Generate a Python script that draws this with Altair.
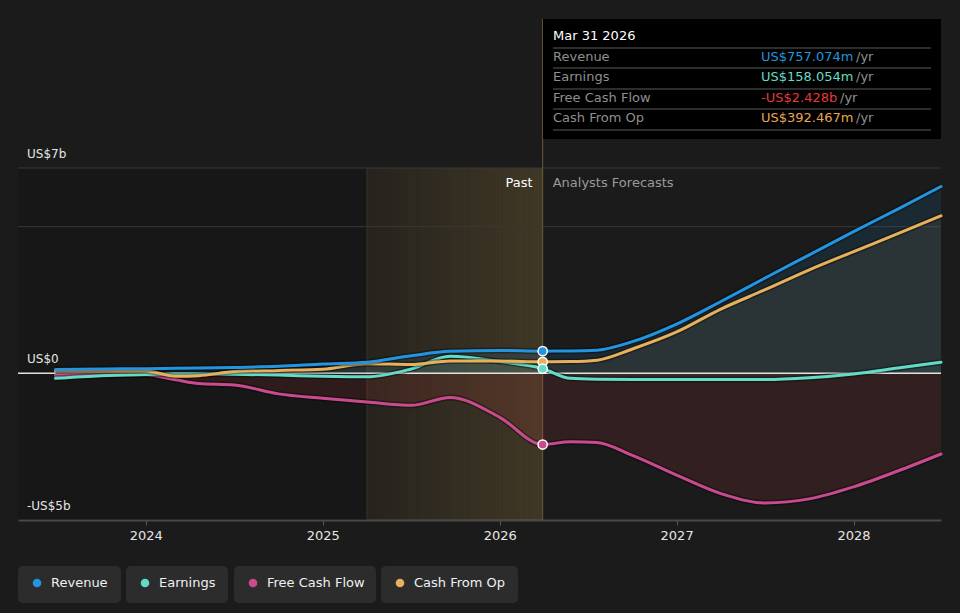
import altair as alt
import numpy as np
import pandas as pd

FONT = "DejaVu Sans"
BG = "#1b1b1b"

# ---------------- data ----------------
t = [2023.49, 2023.75, 2024.0, 2024.17, 2024.3, 2024.5, 2024.75, 2025.0, 2025.25,
     2025.5, 2025.72, 2026.0, 2026.243, 2026.4, 2026.55, 2026.75, 2027.0, 2027.25,
     2027.5, 2027.75, 2028.0, 2028.25, 2028.494]
revenue = [0.13, 0.15, 0.16, 0.17, 0.18, 0.2, 0.24, 0.32, 0.38,
           0.6, 0.75, 0.78, 0.757, 0.76, 0.79, 1.08, 1.68, 2.45,
           3.25, 4.04, 4.83, 5.6, 6.37]
earnings = [-0.17, -0.08, -0.04, -0.02, -0.02, -0.03, -0.06, -0.1, -0.12,
            0.15, 0.58, 0.4, 0.158, -0.17, -0.2, -0.21, -0.21, -0.21,
            -0.21, -0.15, -0.02, 0.18, 0.38]
fcf = [-0.07, -0.06, -0.05, -0.22, -0.35, -0.4, -0.7, -0.85, -0.98,
       -1.09, -0.82, -1.5, -2.428, -2.33, -2.36, -2.8, -3.47, -4.1,
       -4.42, -4.28, -3.87, -3.33, -2.75]
cfo = [0.08, 0.08, 0.08, -0.1, -0.08, 0.06, 0.1, 0.14, 0.33,
       0.3, 0.42, 0.42, 0.392, 0.4, 0.45, 0.83, 1.41, 2.19,
       2.85, 3.53, 4.15, 4.76, 5.37]

series_names = ["Revenue", "Earnings", "Free Cash Flow", "Cash From Op"]
series_colors = ["#2394df", "#62dcc6", "#c94b8f", "#e8b05b"]
value_colors = ["#2394df", "#62dcc6", "#e23b3b", "#e3a852"]
now_t = 2026.243
now_values = [0.757074, 0.158054, -2.428, 0.392467]
now_label = "Mar 31 2026"
now_texts = ["US$757.074m", "US$158.054m", "-US$2.428b", "US$392.467m"]
past_start = 2025.25
x_start, x_end = 2023.278, 2028.494
y_top, y_bottom = 7, -5
year_ticks = [2024, 2025, 2026, 2027, 2028]
y_label_values = [7, 0, -5]
y_label_texts = ["US$7b", "US$0", "-US$5b"]
grid_values = [7, 5]

# ---------------- layout ----------------
W, H = 923, 501
xs = alt.Scale(domain=[x_start, x_end], nice=False, zero=False)
ys = alt.Scale(domain=[-5, 12.08], nice=False, zero=False)
xaxis = alt.Axis(values=year_ticks, format="d", labelColor="#e6e6e6", labelFontSize=13,
                 labelFont=FONT, domainColor="#4a4a4a", domainWidth=2, tickColor="#5a5a5a",
                 tickSize=5, tickWidth=1, labelPadding=4, grid=False, title=None, labelFlush=False)


def X(field):
    return alt.X(field, type="quantitative", scale=xs, axis=xaxis)


def Y(field):
    return alt.Y(field, type="quantitative", scale=ys, axis=None)


def one():
    return alt.Chart(pd.DataFrame({"d": [0]}))


def txt(s, px, py, color, size=13, align="left", weight="normal"):
    return alt.Chart(pd.DataFrame({"s": [s]})).mark_text(
        align=align, baseline="middle", color=color, fontSize=size, font=FONT, fontWeight=weight
    ).encode(text="s:N", x=alt.value(px), y=alt.value(py))


def box(x0, x1, y0, y1, color, radius=0, opacity=1.0):
    return one().mark_rect(color=color, cornerRadius=radius, opacity=opacity).encode(
        x=alt.value(x0), x2=alt.value(x1), y=alt.value(y0), y2=alt.value(y1))


vals = {"Revenue": revenue, "Earnings": earnings, "Free Cash Flow": fcf, "Cash From Op": cfo}
dfs = {n: pd.DataFrame({"t": t, "v": vals[n], "z": [0.0] * len(t)}) for n in series_names}
col = dict(zip(series_names, series_colors))

layers = []

# darker historic region
region = pd.DataFrame({"x0": [x_start], "x1": [past_start], "p1": [now_t],
                       "top": [y_top], "bot": [y_bottom]})
layers.append(alt.Chart(region).mark_rect(color="#000000", opacity=0.14).encode(
    x=X("x0"), x2="x1", y=Y("top"), y2="bot"))

# past highlight (horizontal fade built from thin strips)
n_strips = 60
edges = np.linspace(past_start, now_t, n_strips + 1)
strips = pd.DataFrame({"a": edges[:-1], "b": edges[1:],
                       "o": np.linspace(0.07, 0.22, n_strips),
                       "top": [y_top] * n_strips, "bot": [y_bottom] * n_strips})
layers.append(alt.Chart(strips).mark_rect(color="#c8a050").encode(
    x=X("a"), x2="b", y=Y("top"), y2="bot",
    opacity=alt.Opacity("o:Q", scale=None, legend=None)))

# gridlines
layers.append(alt.Chart(pd.DataFrame({"g": grid_values})).mark_rule(color="#383838", strokeWidth=1).encode(
    y=Y("g")))

# boundary lines
layers.append(alt.Chart(region).mark_rule(color="#3b3326", strokeWidth=1).encode(
    x=X("x1"), y=Y("top"), y2="bot"))
layers.append(alt.Chart(region).mark_rule(color="#6b5a34", strokeWidth=1).encode(x=X("p1")))

# areas
area_op = {"Revenue": 0.12, "Cash From Op": 0.08, "Earnings": 0.07}
layers.append(alt.Chart(dfs["Free Cash Flow"]).mark_area(interpolate="monotone", color="#ff4646", opacity=0.10).encode(
    x=X("t"), y=Y("v"), y2="z"))
for n in ["Revenue", "Cash From Op", "Earnings"]:
    layers.append(alt.Chart(dfs[n]).mark_area(interpolate="monotone", color=col[n], opacity=area_op[n]).encode(
        x=X("t"), y=Y("v"), y2="z"))

# zero line
layers.append(alt.Chart(pd.DataFrame({"z": [0]})).mark_rule(color="#e2e2e2", strokeWidth=1.5).encode(y=Y("z")))

# lines
for n in ["Free Cash Flow", "Earnings", "Cash From Op", "Revenue"]:
    layers.append(alt.Chart(dfs[n]).mark_line(interpolate="monotone", color="#000000", opacity=0.35,
                                              strokeWidth=6).encode(x=X("t"), y=Y("v")))
    layers.append(alt.Chart(dfs[n]).mark_line(interpolate="monotone", color=col[n], strokeWidth=3,
                                              strokeCap="round").encode(x=X("t"), y=Y("v")))

# markers at now
pts = pd.DataFrame({"t": [now_t] * 4, "v": now_values, "s": series_names})
for n in ["Free Cash Flow", "Revenue", "Cash From Op", "Earnings"]:
    sub = pts[pts.s == n].reset_index(drop=True)
    layers.append(alt.Chart(sub).mark_circle(size=85, color=col[n], opacity=1,
                                             stroke="#ffffff", strokeWidth=1.5).encode(
        x=X("t"), y=Y("v")))

# Past / forecast labels
lab = pd.DataFrame({"t": [now_t], "v": [y_top], "a": ["Past"], "b": ["Analysts Forecasts"]})
layers.append(alt.Chart(lab).mark_text(align="right", baseline="middle", dx=-10, dy=15,
                                       color="#ffffff", fontSize=13, font=FONT).encode(
    x=X("t"), y=Y("v"), text="a:N"))
layers.append(alt.Chart(lab).mark_text(align="left", baseline="middle", dx=10, dy=15,
                                       color="#9a9a9a", fontSize=13, font=FONT).encode(
    x=X("t"), y=Y("v"), text="b:N"))

# y labels
ylab = pd.DataFrame({"v": y_label_values, "s": y_label_texts})
layers.append(alt.Chart(ylab).mark_text(align="left", baseline="middle", dy=-14, color="#e6e6e6",
                                        fontSize=12, font=FONT).encode(
    x=alt.value(9), y=Y("v"), text="s:N"))

# tooltip box
layers.append(box(525, 923, 0, 120, "#000000"))
layers.append(txt(now_label, 535, 17, "#ffffff", 13))
for yy in [29, 49, 70, 90, 111]:
    layers.append(one().mark_rule(color="#3c3c3c", strokeWidth=1.5).encode(
        x=alt.value(535), x2=alt.value(913), y=alt.value(yy)))
row_y = [38, 58, 79, 99]
yr_x = [838, 838, 822, 838]
for i, n in enumerate(series_names):
    layers.append(txt(n, 535, row_y[i], "#8f8f8f", 13))
    layers.append(txt(now_texts[i], 743, row_y[i], value_colors[i], 13))
    layers.append(txt("/yr", yr_x[i], row_y[i], "#8f8f8f", 13))

# legend buttons
leg_x = [0, 108, 216, 363]
leg_x1 = [103, 210, 358, 500]
for i, n in enumerate(series_names):
    layers.append(box(leg_x[i], leg_x1[i], 547, 584, "#2c2c2c", radius=5))
    layers.append(one().mark_circle(size=75, color=series_colors[i], opacity=1).encode(
        x=alt.value(leg_x[i] + 19), y=alt.value(564)))
    layers.append(txt(n, leg_x[i] + 33, 564, "#f0f0f0", 13))

chart = alt.layer(*layers).properties(
    width=W, height=H,
    autosize=alt.AutoSizeParams(type="none"),
    padding={"left": 18, "top": 19, "right": 19, "bottom": 93},
    background=BG,
).configure_view(strokeWidth=0)

chart.save("out.html", embed_options={"renderer": "svg", "actions": False})
